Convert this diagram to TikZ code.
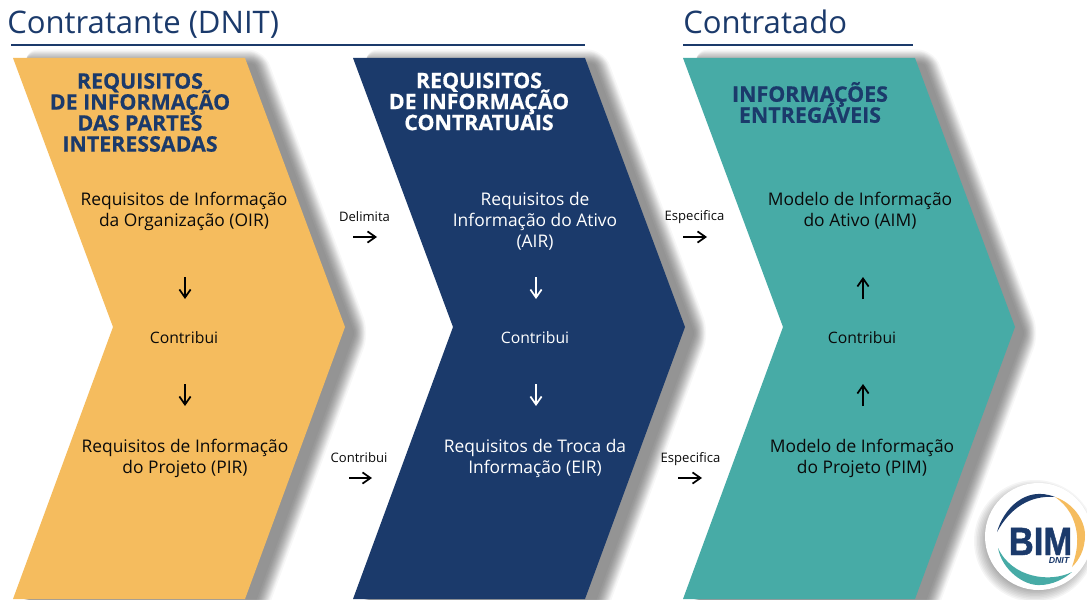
\documentclass[tikz,border=0pt]{standalone}
\usepackage{fontspec}
\setmainfont{Open Sans}
\newfontfamily\logofont[BoldFeatures={FakeBold=1.2}]{Liberation Sans}
\newfontfamily\headfont[BoldFeatures={FakeBold=0.5}]{Open Sans}
\definecolor{navy}{HTML}{1B3A6B}
\definecolor{gold}{HTML}{F5BC5E}
\definecolor{teal2}{HTML}{47ABA6}
\definecolor{ink}{HTML}{0A0A0A}
\usetikzlibrary{arrows.meta}
\lineskiplimit=-30pt
\tikzset{
  x=0.75pt,y=-0.75pt,
  title/.style={text=navy,font=\fontsize{23.3}{26}\selectfont,anchor=base west,inner sep=0pt},
  head/.style={text=navy,font=\headfont\fontsize{16.05}{15.75}\selectfont\bfseries,align=center,inner sep=0pt},
  bodyk/.style={text=ink,font=\fontsize{13.05}{15.75}\selectfont,align=center,inner sep=0pt},
  bodyw/.style={text=white,font=\fontsize{13.05}{15.75}\selectfont,align=center,inner sep=0pt},
  verbk/.style={text=ink,font=\fontsize{11.8}{13}\selectfont,inner sep=0pt},
  verbw/.style={text=white,font=\fontsize{11.8}{13}\selectfont,inner sep=0pt},
  small/.style={text=ink,font=\fontsize{9.8}{12}\selectfont,inner sep=0pt},
  conn/.style={-{Straight Barb[length=6pt,width=13pt,angle'=70]},line width=1.3pt},
  connw/.style={conn,draw=white},
  rule/.style={draw=navy,line width=1.9pt},
}
\newcommand{\chevshape}[1]{(#1+0,58) -- (#1+232,58) -- (#1+332,327) -- (#1+232,599) -- (#1+0,599) -- (#1+100,327) -- cycle}
% one layer of a soft shadow: the chevron grown outward by r pixels
\newcommand{\shadowlayer}[2]{%
  \pgfmathsetmacro{\rc}{0.75*(#2+2)}%
  \fill[black,opacity=0.032,rounded corners=\rc pt]
    (#1,58-#2) -- (#1+232+0.694*#2,58-#2) -- (#1+332+1.066*#2,327)
    -- (#1+232+0.7*#2,599+#2) -- (#1,599+#2) -- (#1+103,327) -- cycle;%
}
\begin{document}
\begin{tikzpicture}
\useasboundingbox (0,0) rectangle (1087,599);
\fill[white] (0,0) rectangle (1087,599);
% shadows
\begin{scope}
\clip (0,0) rectangle (1087,599);
\foreach \X in {22,362,692}{
  \foreach \R in {0.5,2,3,4,5,5.8,6.6,7.4,8.2,9,9.8,10.6,11.4,12.2,13,14.5}{
    \begin{scope}[shift={(0,6)}]
      \shadowlayer{\X}{\R}
    \end{scope}
  }
}
\end{scope}
% chevrons
\fill[gold] \chevshape{13};
\fill[navy] \chevshape{353};
\fill[teal2] \chevshape{683};
% titles
\node[title] (t1) at (7,33.5) {Contratante (DNIT)};
\node[title] (t2) at (683,33.5) {Contratado};
\coordinate (r1a) at (11,45); \coordinate (r1b) at (585,45);
\coordinate (r2a) at (683,45); \coordinate (r2b) at (913,45);
\draw[rule] (r1a) -- (r1b);
\draw[rule] (r2a) -- (r2b);
% headings
\node[head] (h1) at (140,112.5) {REQUISITOS\\DE INFORMAÇÃO\\DAS PARTES\\INTERESSADAS};
\node[head,text=white] (h2) at (479,101.5) {REQUISITOS\\DE INFORMAÇÃO\\CONTRATUAIS};
\node[head] (h3) at (810,102.5) {INFORMAÇÕES\\ENTREGÁVEIS};
% bodies
\node[bodyk] (oir) at (184,211) {Requisitos de Informação\\da Organização (OIR)};
\node[bodyk] (pir) at (185,458) {Requisitos de Informação\\do Projeto (PIR)};
\node[bodyw] (air) at (535,221) {Requisitos de\\Informação do Ativo\\(AIR)};
\node[bodyw] (eir) at (535,458) {Requisitos de Troca da\\Informação (EIR)};
\node[bodyk] (aim) at (860,211) {Modelo de Informação\\do Ativo (AIM)};
\node[bodyk] (pim) at (862,458) {Modelo de Informação\\do Projeto (PIM)};
\node[verbk] (c1) at (184,338) {Contribui};
\node[verbw] (c2) at (535,338) {Contribui};
\node[verbk] (c3) at (862,338) {Contribui};
\node[small] (d1) at (364.5,217) {Delimita};
\node[small] (d2) at (359,458) {Contribui};
\node[small] (d3) at (694.5,217) {Especifica};
\node[small] (d4) at (690.5,459) {Especifica};
% arrows
\coordinate (a1) at (185,277); \coordinate (a2) at (185,299);
\coordinate (a3) at (185,384); \coordinate (a4) at (185,406);
\coordinate (b1) at (536,277); \coordinate (b2) at (536,299);
\coordinate (b3) at (536,384); \coordinate (b4) at (536,406);
\coordinate (e1) at (863,299); \coordinate (e2) at (863,277);
\coordinate (e3) at (863,406); \coordinate (e4) at (863,384);
\coordinate (f1) at (353,237); \coordinate (f2) at (377,237);
\coordinate (f3) at (349,478); \coordinate (f4) at (372,478);
\coordinate (g1) at (683,237); \coordinate (g2) at (707,237);
\coordinate (g3) at (678,478); \coordinate (g4) at (702,478);
\draw[conn] (a1) -- (a2);
\draw[conn] (a3) -- (a4);
\draw[connw] (b1) -- (b2);
\draw[connw] (b3) -- (b4);
\draw[conn] (e1) -- (e2);
\draw[conn] (e3) -- (e4);
\draw[conn] (f1) -- (f2);
\draw[conn] (f3) -- (f4);
\draw[conn] (g1) -- (g2);
\draw[conn] (g3) -- (g4);
% logo
\coordinate (lc) at (1038.5,536.5);
\begin{scope}
\clip (0,0) rectangle (1087,599);
\foreach \r in {46,47.5,...,61}{
  \fill[black,opacity=0.04] (1035,541) circle[radius=\r];
}
\end{scope}
\fill[white] (lc) circle[radius=53.5];
\fill[navy] (997,532) .. controls (1003,510) and (1025,485) .. (1055,497)
   .. controls (1030,495) and (1010,508) .. cycle;
\fill[gold] (1055,497) .. controls (1073,503) and (1085,520) .. (1085,535)
   .. controls (1085,550) and (1079,560) .. (1072,567)
   .. controls (1076,555) and (1078,545) .. (1077,535)
   .. controls (1075,518) and (1068,506) .. cycle;
\fill[teal2] (998,548) .. controls (1002,570) and (1024,586) .. (1040,585)
   .. controls (1052,585) and (1064,579) .. (1072,572)
   .. controls (1050,583) and (1012,578) .. cycle;
\node[text=navy,font=\logofont\fontsize{29.5}{29.5}\selectfont\bfseries,inner sep=0pt,xscale=0.88,anchor=base,text depth=0pt] (bim) at (1040.5,555) {BIM};
\node[text=navy,font=\logofont\fontsize{6.6}{7}\selectfont\bfseries\itshape,inner sep=0pt,anchor=base,text height=4.5pt,text depth=0pt] (dn) at (1059,563.5) {DNIT};
\end{tikzpicture}
\end{document}
